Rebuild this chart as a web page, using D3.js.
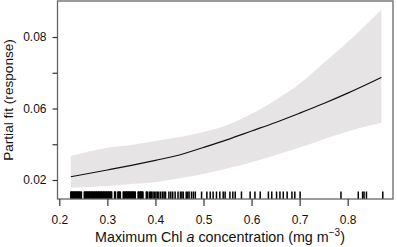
<!DOCTYPE html>
<html>
<head>
<meta charset="utf-8">
<script src="https://cdn.jsdelivr.net/npm/d3@7"></script>
<style>
  body { margin: 0; background: #fff; }
  svg { display: block; font-family: "Liberation Sans", Arial, Helvetica, sans-serif; }
  .tick text { font-size: 12px; fill: #111; }
  .tick line { stroke: #333; stroke-width: 1.2px; }
</style>
</head>
<body>
<div id="chart"></div>
<script>
// fitted curve and its confidence band
var chlX  = [0.224, 0.3, 0.35, 0.4, 0.45, 0.5, 0.55, 0.6, 0.65, 0.7, 0.75, 0.8, 0.87];
var fit   = [0.0409, 0.0428, 0.0441, 0.0455, 0.0470, 0.0491, 0.0513, 0.0537, 0.0561, 0.0587, 0.0614, 0.0643, 0.0687];
var upper = [0.0467, 0.0490, 0.0498, 0.0509, 0.0520, 0.0534, 0.0554, 0.0585, 0.0624, 0.0669, 0.0727, 0.0786, 0.0876];
var lower = [0.0378, 0.0383, 0.0389, 0.0394, 0.0405, 0.0417, 0.0433, 0.0450, 0.0470, 0.0491, 0.0514, 0.0536, 0.0560];

// observations shown as rug
var rug = [0.224, 0.225, 0.226, 0.227, 0.228, 0.230, 0.231, 0.232, 0.233, 0.235, 0.236,
  0.237, 0.238, 0.240, 0.241, 0.242, 0.243, 0.245, 0.246,
  0.252, 0.253, 0.254, 0.256, 0.257, 0.258, 0.259, 0.261, 0.262, 0.263, 0.264, 0.266,
  0.267, 0.268, 0.269, 0.271, 0.272, 0.273, 0.274, 0.276, 0.277, 0.278, 0.279, 0.281,
  0.282, 0.283, 0.284, 0.286, 0.287, 0.288, 0.289, 0.291, 0.292, 0.293, 0.294, 0.296,
  0.297, 0.298, 0.299, 0.301, 0.302, 0.303, 0.304, 0.306, 0.307, 0.308, 0.309,
  0.315, 0.316, 0.317, 0.322, 0.323, 0.324, 0.326, 0.327, 0.333, 0.334, 0.335, 0.337,
  0.338, 0.339, 0.340, 0.342, 0.343, 0.344, 0.345, 0.347, 0.348, 0.349, 0.350, 0.352,
  0.353, 0.354, 0.355, 0.357, 0.358, 0.364, 0.365, 0.366, 0.368, 0.369, 0.370, 0.371,
  0.373, 0.374, 0.381, 0.382, 0.384, 0.388,
  0.390, 0.392, 0.395, 0.398, 0.401, 0.404, 0.407, 0.411, 0.415, 0.418, 0.421, 0.428,
  0.432, 0.436, 0.441, 0.447, 0.452, 0.455, 0.458, 0.464, 0.467, 0.470, 0.475, 0.479, 0.483,
  0.496, 0.507, 0.514, 0.520, 0.527, 0.534, 0.541, 0.545, 0.555, 0.561, 0.566, 0.579,
  0.597, 0.607, 0.618, 0.635, 0.642, 0.652, 0.659, 0.666, 0.674, 0.684, 0.690, 0.701,
  0.786, 0.822, 0.831, 0.834, 0.839, 0.873];

var xTicks = [0.2, 0.3, 0.4, 0.5, 0.6, 0.7, 0.8];
var yTicks = [0.04, 0.05, 0.06, 0.07, 0.08];
var yTickLabels = ["0.02", "", "0.06", "", "0.08"];

var width = 397, height = 247;
var box = {left: 57.5, right: 393, top: 1, bottom: 199};

var svg = d3.select("#chart").append("svg")
    .attr("width", width)
    .attr("height", height);

var x = d3.scaleLinear().domain([0.2, 0.8]).range([59.3, 347.7]);
var y = d3.scaleLinear().domain([0.04, 0.08]).range([180, 37]);

var rows = chlX.map(function(v, i) {
    return {x: v, fit: fit[i], hi: upper[i], lo: lower[i]};
});

// band
svg.append("path")
    .datum(rows)
    .attr("fill", "#e6e4e4")
    .attr("d", d3.area()
        .curve(d3.curveMonotoneX)
        .x(d => x(d.x))
        .y0(d => y(d.lo))
        .y1(d => y(d.hi)));

// fitted line
svg.append("path")
    .datum(rows)
    .attr("fill", "none")
    .attr("stroke", "#111")
    .attr("stroke-width", 1.2)
    .attr("d", d3.line()
        .curve(d3.curveMonotoneX)
        .x(d => x(d.x))
        .y(d => y(d.fit)));

// rug
svg.append("g")
    .selectAll("line")
    .data(rug)
    .enter().append("line")
    .attr("x1", d => x(d)).attr("x2", d => x(d))
    .attr("y1", 191.5).attr("y2", box.bottom)
    .attr("stroke", "#000")
    .attr("stroke-width", 1.5);

// plot box
svg.append("rect")
    .attr("x", box.left).attr("y", box.top)
    .attr("width", box.right - box.left)
    .attr("height", box.bottom - box.top)
    .attr("fill", "none")
    .attr("stroke", "#666")
    .attr("stroke-width", 1.3);

// x axis
var xAxis = svg.append("g")
    .attr("transform", "translate(0," + box.bottom + ")")
    .call(d3.axisBottom(x).tickValues(xTicks).tickSize(7).tickPadding(9)
        .tickFormat(d3.format(".1f")));
xAxis.select(".domain").remove();

// y axis
var yAxis = svg.append("g")
    .attr("transform", "translate(" + box.left + ",0)")
    .call(d3.axisLeft(y).tickValues(yTicks).tickSize(5).tickPadding(6)
        .tickFormat((d, i) => yTickLabels[i]));
yAxis.select(".domain").remove();

// axis titles
var xt = svg.append("text")
    .attr("x", 220).attr("y", 241.5)
    .attr("text-anchor", "middle")
    .style("font-size", "14.3px")
    .attr("fill", "#111");
xt.append("tspan").text("Maximum Chl ");
xt.append("tspan").style("font-style", "italic").text("a");
xt.append("tspan").text(" concentration (mg m");
xt.append("tspan").attr("dy", -5.5).style("font-size", "10px").text("\u22123");
xt.append("tspan").attr("dy", 5.5).text(")");

svg.append("text")
    .attr("transform", "translate(13,100) rotate(-90)")
    .attr("text-anchor", "middle")
    .style("font-size", "13.6px")
    .attr("fill", "#111")
    .text("Partial fit (response)");
</script>
</body>
</html>
